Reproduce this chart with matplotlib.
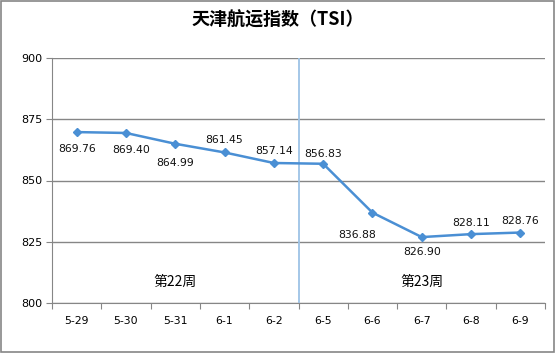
import matplotlib
matplotlib.use("Agg")
import matplotlib.pyplot as plt
from matplotlib.patches import Rectangle

plt.rcParams['font.family'] = ['DejaVu Sans', 'Noto Sans CJK SC']

# data
dates = ['5-29', '5-30', '5-31', '6-1', '6-2', '6-5', '6-6', '6-7', '6-8', '6-9']
tsi = [869.76, 869.40, 864.99, 861.45, 857.14, 856.83, 836.88, 826.90, 828.11, 828.76]
# label offsets in points (dx, dy)
label_offsets = [(0, -12), (4, -12), (0, -14), (0, 9), (0, 9), (0, 7), (-11, -16), (0, -11), (0, 8), (0, 8)]
weeks = ['第22周', '第23周']

line_color = '#4A8FD4'
grid_color = '#868686'

fig = plt.figure(figsize=(5.55, 3.53), dpi=100)
ax = fig.add_axes([52 / 555, 50 / 353, 493 / 555, 245 / 353])

x = list(range(len(dates)))
ax.plot(x, tsi, color=line_color, lw=1.8, marker='D', ms=4.5, zorder=3)

for i, v in enumerate(tsi):
    dx, dy = label_offsets[i]
    ax.annotate(f'{v:.2f}', (i, v), xytext=(dx, dy), textcoords='offset points',
                ha='center', va='center', fontsize=7.8, color='#111111')

# week divider between 6-2 and 6-5
ax.axvline(4.5, color='#9DC3E6', lw=1.3, zorder=2)
ax.text(2, 808.5, weeks[0], ha='center', va='center', fontsize=10,
        family=['Noto Sans CJK SC'])
ax.text(7, 808.5, weeks[1], ha='center', va='center', fontsize=10,
        family=['Noto Sans CJK SC'])

ax.set_xlim(-0.5, len(dates) - 0.5)
ax.set_ylim(800, 900)
ax.set_yticks([800, 825, 850, 875, 900])
ax.yaxis.grid(True, color=grid_color, lw=1)
ax.set_axisbelow(True)

ax.set_xticks([i - 0.5 for i in range(len(dates) + 1)], minor=False)
ax.set_xticklabels([])
ax.set_xticks(x, minor=True)
ax.set_xticklabels(dates, minor=True, fontsize=7.8)
ax.tick_params(axis='x', which='minor', length=0, pad=9)
ax.tick_params(axis='x', which='major', length=4, color=grid_color, direction='out')
ax.tick_params(axis='y', length=4, color=grid_color, labelsize=8, pad=3)

for side in ['top', 'right']:
    ax.spines[side].set_visible(False)
for side in ['left', 'bottom']:
    ax.spines[side].set_color(grid_color)

fig.text(0.5, 1 - 20 / 353, '天津航运指数（TSI）', ha='center', va='center',
         fontsize=13, fontweight='bold', family=['Noto Sans CJK SC'])

fig.patches.append(Rectangle((0.001, 0.002), 0.997, 0.996, transform=fig.transFigure,
                             fill=False, edgecolor=grid_color, lw=1.2))

fig.savefig('out.png', dpi=100)
